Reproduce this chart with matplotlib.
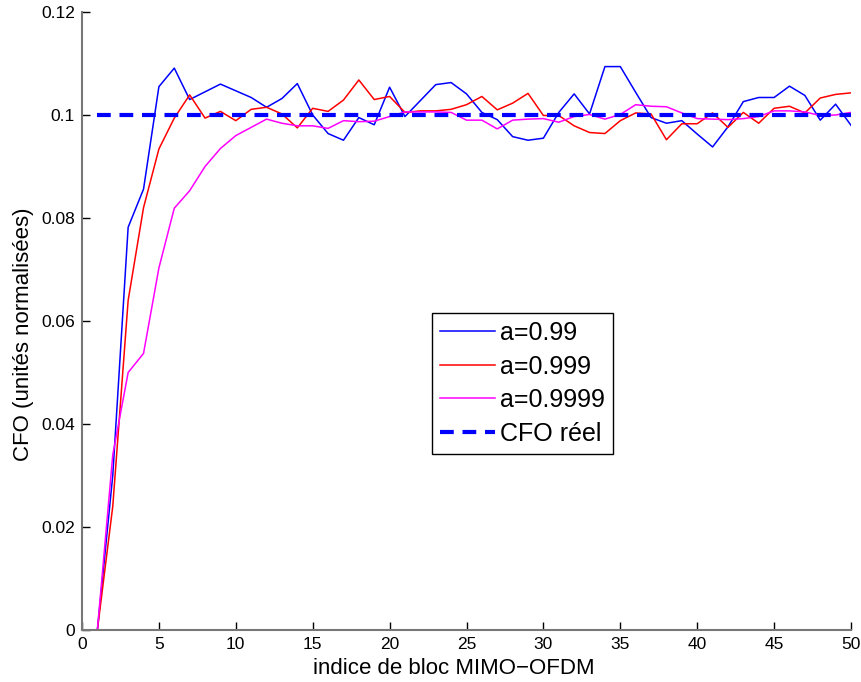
import numpy as np
import matplotlib
matplotlib.use("Agg")
import matplotlib.pyplot as plt
from matplotlib.ticker import FuncFormatter

plt.rcParams['font.family'] = ['Liberation Sans', 'DejaVu Sans']

blocks = list(range(1, 51))
cfo_099 = [0.0, 0.030, 0.0782, 0.0856, 0.1055, 0.1091, 0.1030, 0.1045, 0.1060, 0.1047,
           0.1034, 0.1015, 0.1032, 0.1061, 0.1000, 0.0964, 0.0951, 0.0995, 0.0981, 0.1054,
           0.0997, 0.1028, 0.1059, 0.1063, 0.1041, 0.1005, 0.0991, 0.0958, 0.0951, 0.0955,
           0.1005, 0.1041, 0.1002, 0.1094, 0.1094, 0.1044, 0.0995, 0.0984, 0.0989, 0.0963,
           0.0938, 0.0977, 0.1026, 0.1034, 0.1034, 0.1056, 0.1038, 0.0990, 0.1021, 0.0980]
cfo_0999 = [0.0, 0.024, 0.0640, 0.0820, 0.0934, 0.0994, 0.1039, 0.0994, 0.1007, 0.0989,
            0.1011, 0.1015, 0.1002, 0.0975, 0.1013, 0.1007, 0.1029, 0.1068, 0.1030, 0.1036,
            0.1005, 0.1008, 0.1008, 0.1011, 0.1020, 0.1036, 0.1010, 0.1023, 0.1042, 0.0999,
            0.0999, 0.0979, 0.0966, 0.0964, 0.0989, 0.1004, 0.1002, 0.0952, 0.0983, 0.0983,
            0.1004, 0.0976, 0.1005, 0.0984, 0.1013, 0.1017, 0.1004, 0.1033, 0.1040, 0.1043]
cfo_09999 = [0.0, 0.034, 0.0500, 0.0537, 0.0703, 0.0819, 0.0853, 0.0900, 0.0935, 0.0960,
             0.0976, 0.0992, 0.0984, 0.0979, 0.0979, 0.0974, 0.0989, 0.0987, 0.0988, 0.0997,
             0.1006, 0.1006, 0.1006, 0.1005, 0.0990, 0.0990, 0.0973, 0.0990, 0.0992, 0.0993,
             0.0986, 0.0997, 0.1001, 0.0992, 0.1001, 0.1020, 0.1017, 0.1016, 0.1004, 0.0993,
             0.0992, 0.0991, 0.0993, 0.0997, 0.1008, 0.1008, 0.1006, 0.0999, 0.1000, 0.1005]
cfo_true = [0.1] * 50

labels = ['a=0.99', 'a=0.999', 'a=0.9999', 'CFO réel']
xticks = [0, 5, 10, 15, 20, 25, 30, 35, 40, 45, 50]
yticks = [0, 0.02, 0.04, 0.06, 0.08, 0.1, 0.12]

fig = plt.figure(figsize=(8.61, 6.82), dpi=100)
ax = fig.add_axes([82/861, 52/682, 769/861, 618/682])

ax.plot(blocks, cfo_099, color=(0, 0, 1), lw=1.1, label=labels[0])
ax.plot(blocks, cfo_0999, color=(1, 0, 0), lw=1.1, label=labels[1])
ax.plot(blocks, cfo_09999, color=(1, 0, 1), lw=1.1, label=labels[2])
ax.plot(blocks, cfo_true, color=(0, 0, 1), lw=3.0, ls=(0, (3.3, 2.1)),
        dash_capstyle='butt', label=labels[3])

ax.set_xlim(0, 50)
ax.set_ylim(0, 0.12)
ax.set_xticks(xticks)
ax.set_yticks(yticks)
ax.yaxis.set_major_formatter(FuncFormatter(lambda v, p: '%g' % v))

for s in ['top', 'right']:
    ax.spines[s].set_visible(False)
for s in ['left', 'bottom']:
    ax.spines[s].set_color('#777777')
    ax.spines[s].set_linewidth(1.5)
ax.tick_params(direction='in', length=6, width=1, color='black', labelsize=12.5, pad=5)

ax.set_xlabel('indice de bloc MIMO\u2212OFDM', fontsize=16)
ax.set_ylabel('CFO (unités normalisées)', fontsize=16, labelpad=5)
ax.xaxis.set_label_coords(0.484, -0.046, transform=ax.transAxes)
ax.xaxis.label.set_va('top')
ax.yaxis.label.set_y(0.479)

leg = ax.legend(loc='upper left', bbox_to_anchor=(0.455, 0.513), fontsize=18,
                frameon=True, fancybox=False, edgecolor='black', framealpha=1,
                handlelength=2.2, handletextpad=0.2, labelspacing=0.38,
                borderpad=0.33, borderaxespad=0)
leg.get_frame().set_linewidth(1.0)

fig.savefig('out.png', dpi=100)
